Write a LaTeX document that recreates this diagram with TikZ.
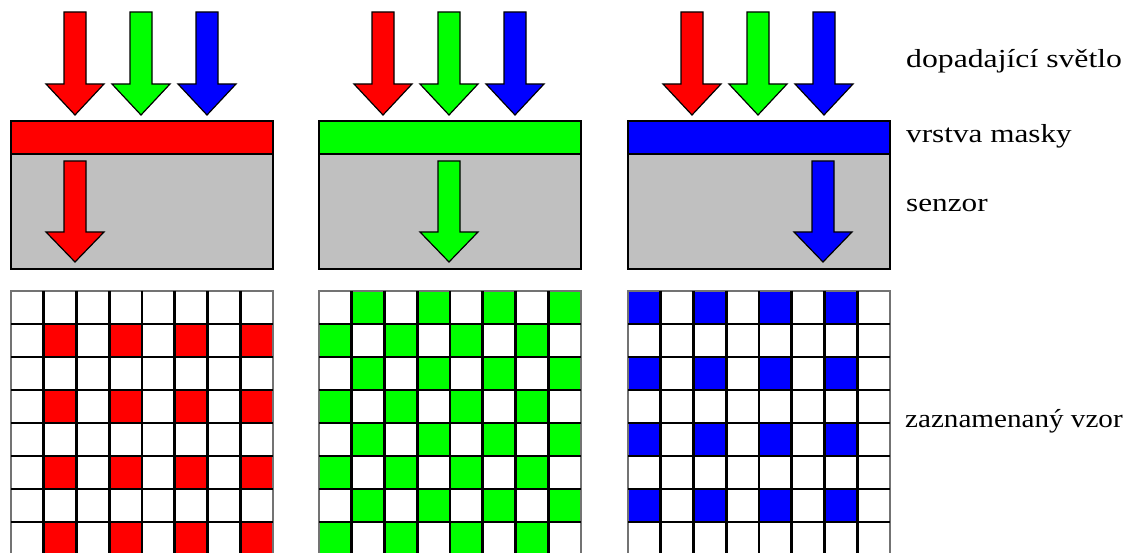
\documentclass[tikz,border=0pt]{standalone}
\usepackage{fontspec}
\setmainfont{Liberation Serif}
\definecolor{fred}{RGB}{255,0,0}
\definecolor{fgreen}{RGB}{0,255,0}
\definecolor{fblue}{RGB}{0,0,255}
\definecolor{sensorgray}{RGB}{192,192,192}
\tikzset{
  arrowbody/.style={draw=black, line width=1.2pt, line join=miter},
  maskbar/.style={draw=black, line width=2.6pt},
  sensorbox/.style={draw=black, fill=sensorgray, line width=2.4pt},
  gridline/.style={draw=black, line width=2.8pt},
  gridframe/.style={draw=black!55, line width=1.6pt},
  caption/.style={anchor=base west, inner sep=0pt, font=\fontsize{26}{30}\selectfont}
}
% block arrow pointing down: centre x, top y, start of head y, tip y, colour
\newcommand{\blockdown}[5]{%
  \filldraw[arrowbody, fill=#5]
    ({#1-11},#2) -- ({#1+11},#2) -- ({#1+11},#3) -- ({#1+29},#3)
    -- (#1,#4) -- ({#1-29},#3) -- ({#1-11},#3) -- cycle;}
% one panel: left x, mask colour
\newcommand{\panelhead}[2]{%
  \blockdown{#1+64}{12}{84}{115}{fred}
  \blockdown{#1+130}{12}{84}{115}{fgreen}
  \blockdown{#1+196}{12}{84}{115}{fblue}
  \filldraw[sensorbox] (#1,154) rectangle ({#1+262},269);
  \filldraw[maskbar, fill=#2] (#1,121) rectangle ({#1+262},154);}
\newcommand{\gridlines}[1]{%
  \draw[gridframe] (#1,291) rectangle ({#1+262},560);
  \foreach \i in {1,...,7}{
    \draw[gridline] ({#1+\i*32.75},291) -- ({#1+\i*32.75},560);
    \draw[gridline] (#1,{291+\i*33}) -- ({#1+262},{291+\i*33});
  }}
\newcommand{\cell}[4]{% left x, row, column, colour
  \fill[#4] ({#1+(#3-1)*32.75},{291+(#2-1)*33}) rectangle ++(32.75,33);}
\begin{document}
\begin{tikzpicture}[x=1pt, y=-1pt]
  \useasboundingbox (0,0) rectangle (1143,553);
  \fill[white] (0,0) rectangle (1143,553);
  \clip (0,0) rectangle (1143,553);

  % light, mask layer and sensor for the three filters
  \panelhead{11}{fred}
  \blockdown{75}{161}{232}{262}{fred}
  \panelhead{319}{fgreen}
  \blockdown{449}{161}{232}{262}{fgreen}
  \panelhead{628}{fblue}
  \blockdown{823}{161}{232}{262}{fblue}

  % recorded patterns
  \foreach \r in {2,4,6,8}{\foreach \c in {2,4,6,8}{\cell{11}{\r}{\c}{fred}}}
  \foreach \r in {1,3,5,7}{\foreach \c in {2,4,6,8}{\cell{319}{\r}{\c}{fgreen}}}
  \foreach \r in {2,4,6,8}{\foreach \c in {1,3,5,7}{\cell{319}{\r}{\c}{fgreen}}}
  \foreach \r in {1,3,5,7}{\foreach \c in {1,3,5,7}{\cell{628}{\r}{\c}{fblue}}}
  \gridlines{11}
  \gridlines{319}
  \gridlines{628}

  % captions
  \node[caption] (lbl-light) at (906,68) {\scalebox{1.22}[1]{dopadající světlo}};
  \node[caption] (lbl-mask) at (906,143) {\scalebox{1.2}[1]{vrstva masky}};
  \node[caption] (lbl-sensor) at (906,212) {\scalebox{1.2}[1]{senzor}};
  \node[caption] (lbl-pattern) at (905,427) {\scalebox{1.12}[1]{zaznamenaný vzor}};
\end{tikzpicture}
\end{document}
